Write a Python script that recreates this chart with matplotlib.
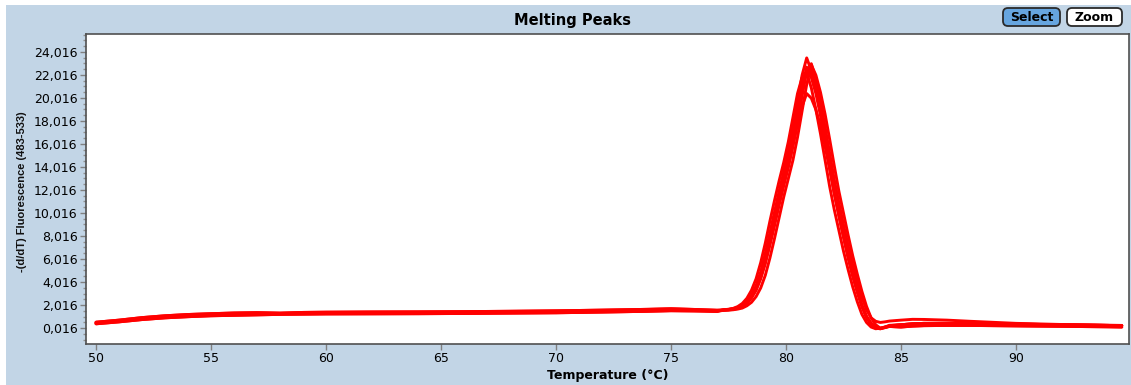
import matplotlib
matplotlib.use("Agg")
import matplotlib.pyplot as plt
from matplotlib.patches import Rectangle, FancyBboxPatch
from matplotlib.ticker import FixedLocator

# ---------------- data ----------------
TITLE = "Melting Peaks"
X_LABEL = "Temperature (°C)"
Y_LABEL = "-(d/dT) Fluorescence (483-533)"
X_TICKS = [50, 55, 60, 65, 70, 75, 80, 85, 90]
Y_TICK_LABELS = ["0,016", "2,016", "4,016", "6,016", "8,016", "10,016", "12,016",
                 "14,016", "16,016", "18,016", "20,016", "22,016", "24,016"]

TEMP_LOW = [50, 51, 52, 53, 54, 55, 56, 57, 58, 59, 60, 62, 64, 66, 68, 70, 72, 74, 75, 76, 77]
BASE_A = [0.45, 0.62, 0.82, 0.98, 1.08, 1.15, 1.20, 1.24, 1.27, 1.29, 1.30, 1.31, 1.32, 1.34, 1.37, 1.40, 1.46, 1.53, 1.60, 1.56, 1.50]
BASE_B = [0.52, 0.70, 0.92, 1.08, 1.19, 1.26, 1.32, 1.35, 1.31, 1.37, 1.39, 1.41, 1.42, 1.44, 1.47, 1.51, 1.57, 1.64, 1.69, 1.63, 1.56]
BASE_C = [0.38, 0.55, 0.75, 0.90, 1.00, 1.08, 1.12, 1.16, 1.20, 1.22, 1.24, 1.25, 1.26, 1.28, 1.31, 1.34, 1.40, 1.47, 1.52, 1.50, 1.46]

TEMP_PEAK = [77.3, 77.5, 77.7, 77.9, 78.1, 78.3, 78.5, 78.7, 78.9, 79.1, 79.3, 79.5,
             79.7, 79.9, 80.1, 80.3, 80.5, 80.7, 80.9, 81.1, 81.3, 81.5, 81.7, 81.9,
             82.1, 82.3, 82.5, 82.7, 82.9, 83.1, 83.3, 83.5, 83.7, 83.9, 84.1, 84.3, 84.5]
PEAK_A = [1.58, 1.60, 1.66, 1.75, 1.95, 2.25, 2.75, 3.5, 4.6, 6.1, 7.8, 9.6, 11.4, 13.0, 14.6, 16.6, 18.8, 21.0, 22.7,
          21.8, 20.4, 18.5, 16.3, 14.0, 11.8, 9.9, 8.1, 6.3, 4.7, 3.3, 2.0, 1.0, 0.4, 0.05, -0.05, 0.05, 0.18]
PEAK_B = [1.60, 1.62, 1.70, 1.80, 2.02, 2.35, 2.9, 3.7, 4.9, 6.5, 8.3, 10.1, 11.9, 13.6, 15.3, 17.4, 19.7, 22.0, 23.5,
          22.4, 20.8, 18.7, 16.4, 14.0, 11.8, 9.8, 7.9, 6.1, 4.5, 3.1, 1.85, 0.9, 0.3, 0.0, -0.05, 0.08, 0.22]
PEAK_C = [1.56, 1.58, 1.60, 1.66, 1.75, 1.95, 2.25, 2.75, 3.5, 4.6, 6.1, 7.8, 9.6, 11.4, 13.0, 14.6, 16.6, 18.9, 21.2,
          22.9, 22.0, 20.5, 18.6, 16.4, 14.1, 11.9, 10.0, 8.1, 6.3, 4.7, 3.2, 1.9, 0.9, 0.3, 0.0, 0.05, 0.15]
PEAK_D = [1.60, 1.65, 1.72, 1.88, 2.15, 2.6, 3.3, 4.3, 5.7, 7.4, 9.3, 11.1, 12.8, 14.4, 16.2, 18.3, 20.4, 21.8, 22.2,
          20.9, 19.0, 16.9, 14.6, 12.3, 10.3, 8.5, 6.7, 5.1, 3.6, 2.3, 1.2, 0.5, 0.1, -0.05, 0.0, 0.1, 0.15]
PEAK_E = [1.56, 1.58, 1.63, 1.72, 1.90, 2.18, 2.65, 3.35, 4.4, 5.8, 7.5, 9.2, 10.9, 12.5, 14.1, 15.9, 17.7, 19.3, 20.4,
          20.0, 19.0, 17.6, 15.8, 13.8, 11.7, 9.8, 8.0, 6.3, 4.7, 3.3, 2.0, 1.05, 0.45, 0.1, -0.02, 0.1, 0.25]
PEAK_F = [1.60, 1.63, 1.68, 1.76, 1.92, 2.2, 2.65, 3.3, 4.3, 5.6, 7.2, 8.9, 10.7, 12.4, 14.0, 15.8, 17.9, 20.2, 22.3,
          23.0, 21.6, 19.7, 17.5, 15.2, 12.9, 10.9, 9.0, 7.2, 5.5, 4.0, 2.7, 1.6, 0.9, 0.6, 0.5, 0.55, 0.62]

TEMP_TAIL = [85, 85.5, 86, 87, 88, 90, 92, 94, 94.6]
TAIL_A = [0.30, 0.38, 0.42, 0.42, 0.40, 0.35, 0.30, 0.24, 0.22]
TAIL_B = [0.70, 0.77, 0.76, 0.70, 0.60, 0.42, 0.32, 0.26, 0.24]
TAIL_C = [0.10, 0.18, 0.22, 0.24, 0.24, 0.20, 0.16, 0.12, 0.10]

CURVES = [
    (BASE_A, PEAK_A, TAIL_A),
    (BASE_B, PEAK_B, TAIL_A),
    (BASE_C, PEAK_C, TAIL_C),
    (BASE_A, PEAK_D, TAIL_C),
    (BASE_B, PEAK_E, TAIL_A),
    (BASE_C, PEAK_F, TAIL_B),
]

# ---------------- style ----------------
W, H = 1131, 385
BG = "#C2D5E6"
RED = "#FF0000"
SPINE = "#505050"

fig = plt.figure(figsize=(W / 100, H / 100), dpi=100)
fig.patch.set_facecolor("white")

# pixel-coordinate backdrop axes
bg = fig.add_axes([0, 0, 1, 1], zorder=0)
bg.set_xlim(0, W)
bg.set_ylim(H, 0)
bg.axis("off")
bg.add_patch(Rectangle((6, 5), W - 6, H - 5, facecolor=BG, edgecolor="none"))
bg.add_patch(FancyBboxPatch((1003, 8), 57, 18, boxstyle="round,pad=0,rounding_size=5",
                            facecolor="#66A5DF", edgecolor="#2A2A2A", lw=1.3))
bg.add_patch(FancyBboxPatch((1067, 8), 55, 18, boxstyle="round,pad=0,rounding_size=5",
                            facecolor="white", edgecolor="#2A2A2A", lw=1.3))
bg.text(1031.5, 17.5, "Select", ha="center", va="center", fontsize=9, fontweight="bold",
        family="DejaVu Sans", color="black")
bg.text(1094.5, 17.5, "Zoom", ha="center", va="center", fontsize=9, fontweight="bold",
        family="DejaVu Sans", color="black")
bg.text(573, 20, TITLE, ha="center", va="center", fontsize=10.5, fontweight="bold",
        family="DejaVu Sans", color="black")
bg.text(608, 375, X_LABEL, ha="center", va="center", fontsize=9, fontweight="bold",
        family="DejaVu Sans", color="black")
bg.text(22, 192, Y_LABEL, ha="center", va="center", rotation=90, fontsize=8,
        family="Liberation Sans", fontweight="bold", color="#111111")

# main axes: pixels x 86..1129, y 34..344
ax = fig.add_axes([86 / W, (H - 344) / H, (1129 - 86) / W, (344 - 34) / H], zorder=1)
ax.set_facecolor("white")

for base, peak, tail in CURVES:
    t = TEMP_LOW + TEMP_PEAK + TEMP_TAIL
    v = base + peak + tail
    ax.plot(t, v, color=RED, lw=2.1, solid_joinstyle="round", solid_capstyle="round")

ax.set_xlim(49.565, 94.913)
ax.set_ylim(-1.375, 25.58)

ax.set_xticks(X_TICKS)
ax.set_xticklabels([str(x) for x in X_TICKS])
y_ticks = [float(s.replace(",", ".")) for s in Y_TICK_LABELS]
ax.set_yticks(y_ticks)
ax.set_yticklabels(Y_TICK_LABELS)
minor = [y_ticks[0] + 0.5 * k for k in range(-2, 52)]
ax.yaxis.set_minor_locator(FixedLocator(minor))

for lab in ax.get_xticklabels() + ax.get_yticklabels():
    lab.set_family("DejaVu Sans")
ax.tick_params(axis="both", which="major", direction="out", color="#808080",
               length=4, width=1, labelsize=9, pad=2, labelcolor="black")
ax.tick_params(axis="y", which="minor", direction="out", color="#909090", length=2.5, width=1)

for s in ax.spines.values():
    s.set_color(SPINE)
    s.set_linewidth(1.2)

fig.savefig("out.png", dpi=100, facecolor=fig.get_facecolor())
